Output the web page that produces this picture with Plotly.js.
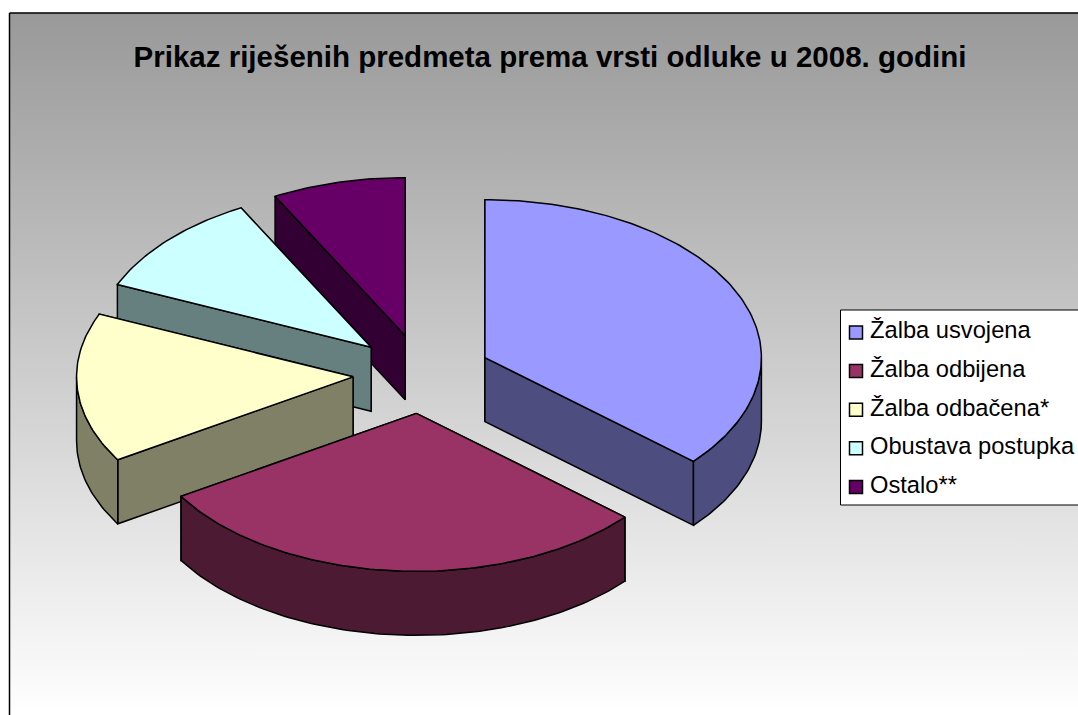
<!DOCTYPE html>
<html>
<head>
<meta charset="utf-8">
<script src="https://cdn.plot.ly/plotly-3.0.1.min.js"></script>
<style>html,body{margin:0;padding:0;background:#fff;overflow:hidden}#chart{width:1078px;height:715px}</style>
</head>
<body>
<div id="chart"></div>
<script>
// Data
const chartTitle = 'Prikaz riješenih predmeta prema vrsti odluke u 2008. godini';
const categories = ['Žalba usvojena', 'Žalba odbijena', 'Žalba odbačena*', 'Obustava postupka', 'Ostalo**'];
const values = [36.4, 29.8, 15.3, 10.7, 7.8];
const topColors = ['#9999FF', '#993366', '#FFFFCC', '#CCFFFF', '#660066'];
const sideColors = ['#4D4D80', '#4D1A33', '#808066', '#668080', '#330033'];

// Pie geometry (chart area in pixel-sized axis units)
const W = 1078, H = 715;
const cx = 422, cy = 374, rx = 276.5, ry = 158, explode = 0.25, depth = 64;
const lineStyle = {color: '#000', width: 1.5};

const rad = d => d * Math.PI / 180;
const total = values.reduce((a, b) => a + b, 0);
const traces = [];

// chart area with its vertical gradient
traces.push({
  type: 'scatter', mode: 'lines', x: [9.5, 1120, 1120, 9.5, 9.5], y: [13, 13, 760, 760, 13],
  fill: 'toself', line: {color: '#000', width: 1.5},
  fillgradient: {type: 'vertical', start: 13, stop: 715, colorscale: [[0, '#999999'], [1, '#FFFFFF']]},
  hoverinfo: 'skip', showlegend: false
});

function poly(xs, ys, color, name) {
  traces.push({
    type: 'scatter', mode: 'lines', x: xs.concat(xs[0]), y: ys.concat(ys[0]),
    fill: 'toself', fillcolor: color, line: lineStyle, name: name,
    hoverinfo: 'skip', showlegend: false
  });
}

// slice angles, clockwise from north
let acc = 0;
const slices = values.map((v, i) => {
  const a = acc, b = acc + v / total * 360;
  acc = b;
  const m = rad((a + b) / 2);
  return {i, a, b, ax: cx + explode * rx * Math.sin(m), ay: cy - explode * ry * Math.cos(m)};
});
const rimX = (s, t) => s.ax + rx * Math.sin(rad(t));
const rimY = (s, t) => s.ay - ry * Math.cos(rad(t));
function arc(s, from, to) {
  const pts = [];
  const n = Math.max(2, Math.ceil(Math.abs(to - from)));
  for (let k = 0; k <= n; k++) {
    const t = from + (to - from) * k / n;
    pts.push([rimX(s, t), rimY(s, t)]);
  }
  return pts;
}

// painter's order: far slices first
[4, 3, 2, 0, 1].forEach(idx => {
  const s = slices[idx], side = sideColors[idx], top = topColors[idx], name = categories[idx];
  // cut faces, the one farther away first
  const cuts = [s.a, s.b].sort((p, q) => rimY(s, p) - rimY(s, q));
  cuts.forEach(t => {
    const x = rimX(s, t), y = rimY(s, t);
    poly([s.ax, x, x, s.ax], [s.ay, y, y + depth, s.ay + depth], side, name);
  });
  // outer wall, only the part that faces the viewer
  const lo = Math.max(s.a, 90), hi = Math.min(s.b, 270);
  if (hi > lo) {
    const pts = arc(s, lo, hi);
    const xs = pts.map(p => p[0]).concat(pts.slice().reverse().map(p => p[0]));
    const ys = pts.map(p => p[1]).concat(pts.slice().reverse().map(p => p[1] + depth));
    poly(xs, ys, side, name);
  }
  // top face
  const pts = arc(s, s.a, s.b);
  poly([s.ax].concat(pts.map(p => p[0])), [s.ay].concat(pts.map(p => p[1])), top, name);
});

// legend
const legendLeft = 840.5, legendTop = 310, legendBottom = 505;
const legendRowFirst = 332.5, legendRowStep = 38.6, swatchX = 856, labelX = 870;
traces.push({
  type: 'scatter', mode: 'lines',
  x: [legendLeft, 1120, 1120, legendLeft, legendLeft],
  y: [legendTop, legendTop, legendBottom, legendBottom, legendTop],
  fill: 'toself', fillcolor: '#fff', line: {color: '#000', width: 1},
  hoverinfo: 'skip', showlegend: false
});
const rowY = categories.map((_, i) => legendRowFirst + i * legendRowStep);
traces.push({
  type: 'scatter', mode: 'markers', x: categories.map(() => swatchX), y: rowY,
  marker: {symbol: 'square', size: 13, color: topColors, line: {color: '#000', width: 1.5}},
  hoverinfo: 'skip', showlegend: false
});
traces.push({
  type: 'scatter', mode: 'text', x: categories.map(() => labelX), y: rowY,
  text: categories, textposition: 'middle right',
  textfont: {family: 'Liberation Sans, Arial, sans-serif', size: 23.7, color: '#000'},
  hoverinfo: 'skip', showlegend: false
});

const layout = {
  width: W, height: H,
  margin: {l: 0, r: 0, t: 0, b: 0, pad: 0},
  paper_bgcolor: '#fff', plot_bgcolor: 'rgba(0,0,0,0)',
  showlegend: false,
  title: {
    text: chartTitle, x: 550 / W, xanchor: 'center', y: 1 - 57 / H, yanchor: 'middle',
    font: {family: 'Liberation Sans, Arial, sans-serif', size: 29.5, color: '#000', weight: 700}
  },
  xaxis: {range: [0, W], visible: false, fixedrange: true},
  yaxis: {range: [H, 0], visible: false, fixedrange: true}
};
Plotly.newPlot('chart', traces, layout, {displayModeBar: false, staticPlot: true});
</script>
</body>
</html>
